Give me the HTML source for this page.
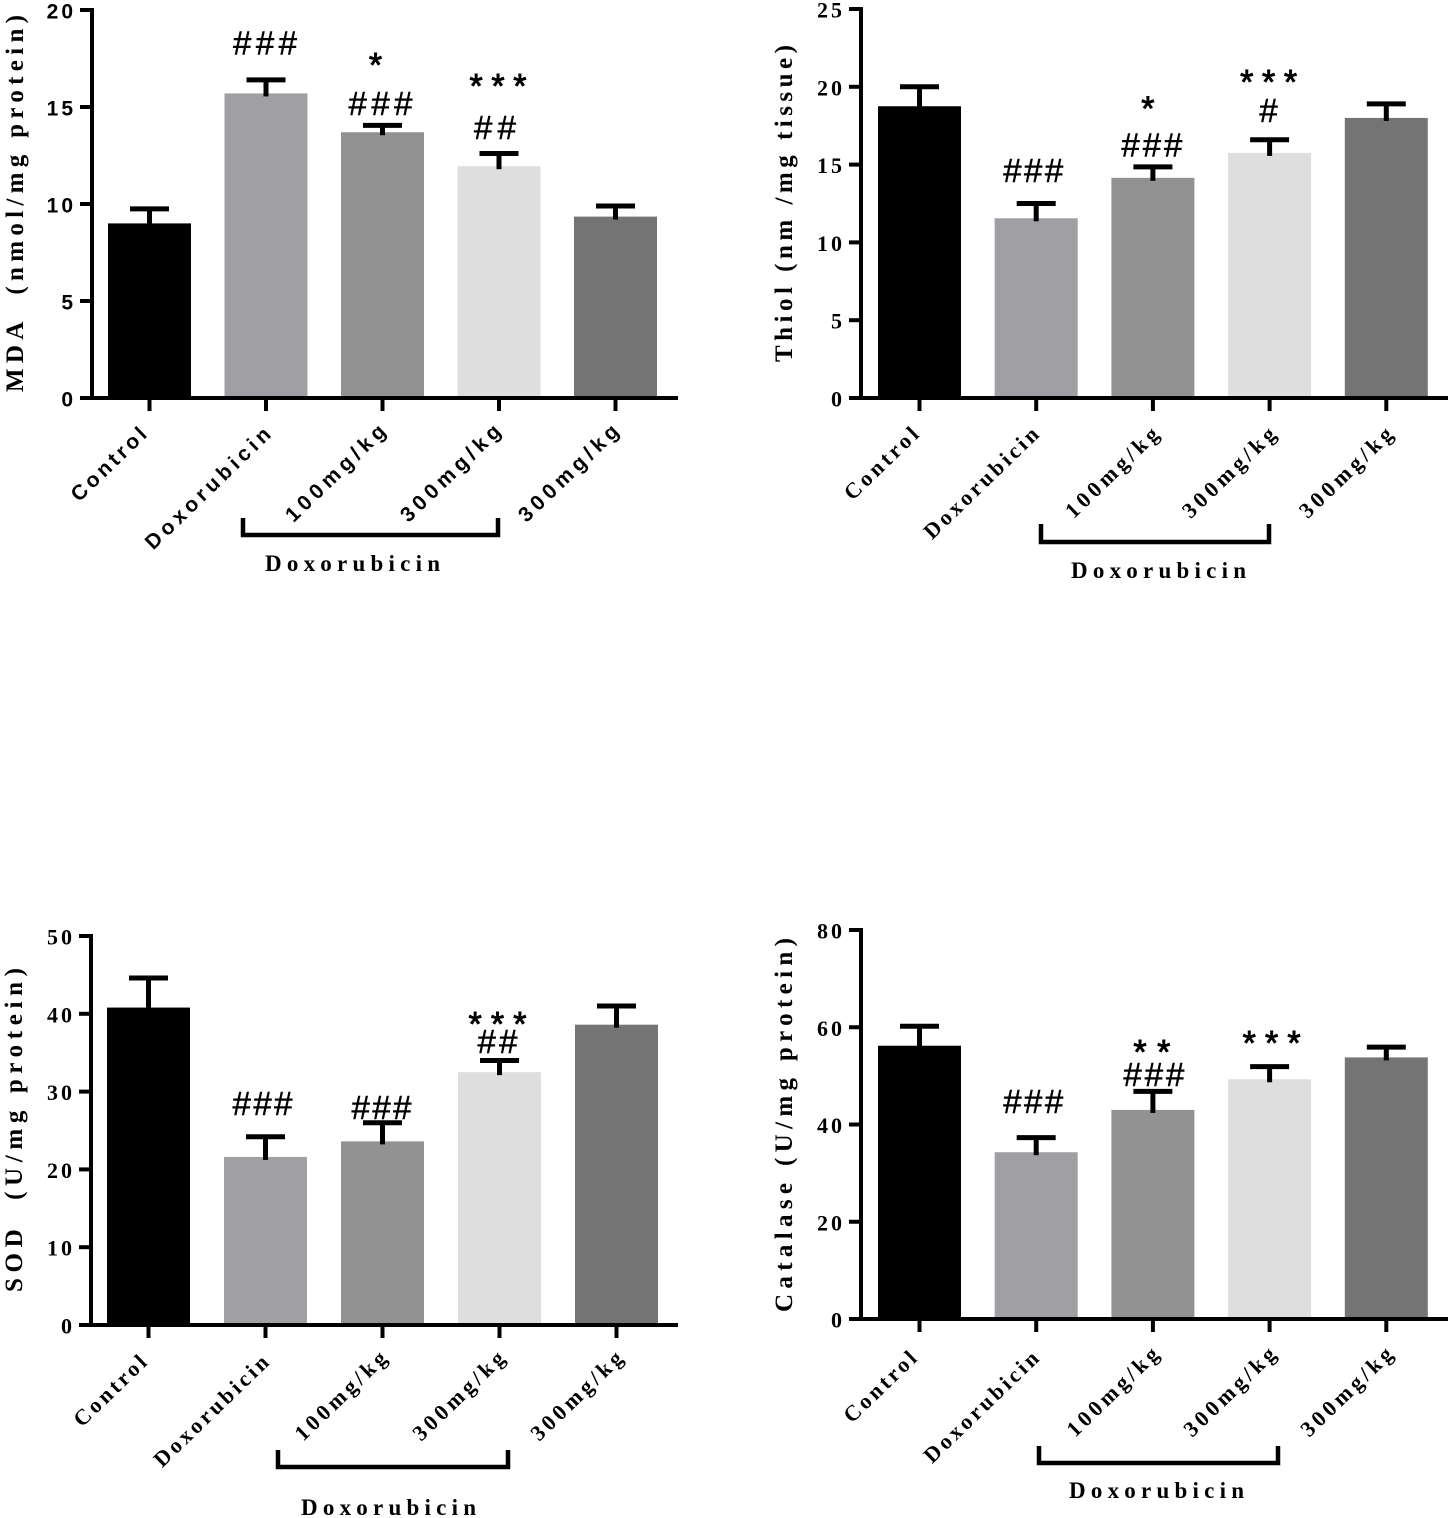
<!DOCTYPE html>
<html lang="en">
<head>
<meta charset="utf-8">
<title>Oxidative stress markers bar charts</title>
<style>
html,body{margin:0;padding:0;background:#fff;}
svg{display:block;}
text{fill:#000;font-weight:bold;}
</style>
</head>
<body>
<svg id="figure" xmlns="http://www.w3.org/2000/svg" width="1450" height="1518" viewBox="0 0 1450 1518"></svg>
<script>
// ---------- shared data ----------
const categories = ['Control', 'Doxorubicin', '100mg/kg', '300mg/kg', '300mg/kg'];
const bracketLabel = 'Doxorubicin';

// ---------- MDA ----------
const mdaMeans = [9.0, 15.7, 13.7, 11.95, 9.35];
const mdaErrorTops = [9.75, 16.4, 14.05, 12.6, 9.9];
const mdaTicks = [0, 5, 10, 15, 20];

// ---------- Thiol ----------
const thiolMeans = [18.75, 11.55, 14.15, 15.75, 18.0];
const thiolErrorTops = [20, 12.5, 14.85, 16.6, 18.9];
const thiolTicks = [0, 5, 10, 15, 20, 25];

// ---------- SOD ----------
const sodMeans = [40.8, 21.6, 23.6, 32.5, 38.6];
const sodErrorTops = [44.6, 24.2, 26, 34, 41];
const sodTicks = [0, 10, 20, 30, 40, 50];

// ---------- Catalase ----------
const catalaseMeans = [56.2, 34.3, 43, 49.3, 53.8];
const catalaseErrorTops = [60.2, 37.3, 46.8, 51.9, 55.9];
const catalaseTicks = [0, 20, 40, 60, 80];

const barColors = ['#000000', '#a0a0a4', '#929292', '#dedede', '#747474'];
const SERIF = '"Liberation Serif", serif';
const SANS = '"Liberation Sans", sans-serif';
const svg = document.getElementById('figure');

function mk(parent, tag, attrs, txt) {
  const n = document.createElementNS('http://www.w3.org/2000/svg', tag);
  for (const k in attrs) n.setAttribute(k, attrs[k]);
  if (txt !== undefined) n.textContent = txt;
  parent.appendChild(n);
  return n;
}

const panels = [
  { id: 'mda', means: mdaMeans, tops: mdaErrorTops, ticks: mdaTicks,
    title: 'MDA  (nmol/mg protein)', titleFrom: 392, titleLen: 377,
    axisX: 92, right: 678, y0: 398, yTop: 10, firstBar: 108, step: 116.5,
    tickFont: SANS, tickFs: 21, tickSpacing: 3, catFont: SANS, catFs: 21,
    catEnds: [[148, 436, 96], [272, 436, 165], [387, 433, 130], [502, 433, 130], [620, 433, 130]],
    bracket: [243, 498, 518, 535], labelX: 265, labelY: 571,
    notes: [[1, '###', -1, 37, 64], [2, '*', -7, 65, 0], [2, '###', -2, 22, 64], [3, '***', -1, 72, 57], [3, '##', -4, 26, 42]] },
  { id: 'thiol', means: thiolMeans, tops: thiolErrorTops, ticks: thiolTicks,
    title: 'Thiol (nm /mg tissue)', titleFrom: 362, titleLen: 317,
    axisX: 861, right: 1448, y0: 398, yTop: 9, firstBar: 878, step: 116.7,
    tickFont: SERIF, tickFs: 22, tickSpacing: 3, catFont: SERIF, catFs: 22,
    catEnds: [[920, 436, 94], [1040, 436, 150], [1160, 436, 120], [1277, 436, 120], [1394, 436, 120]],
    bracket: [1041, 1269, 524, 542], labelX: 1071, labelY: 578,
    notes: [[1, '###', -3, 33, 60], [2, '*', -5, 63, 0], [2, '###', -1, 22, 61], [3, '***', -1, 62, 57], [3, '#', -1, 29, 0]] },
  { id: 'sod', means: sodMeans, tops: sodErrorTops, ticks: sodTicks,
    title: 'SOD  (U/mg protein)', titleFrom: 1292, titleLen: 324,
    axisX: 91, right: 678, y0: 1325, yTop: 936, firstBar: 107, step: 117,
    tickFont: SERIF, tickFs: 22, tickSpacing: 3, catFont: SERIF, catFs: 22,
    catEnds: [[148, 1364, 92], [270, 1364, 150], [388, 1360, 118], [506, 1360, 118], [624, 1360, 118]],
    bracket: [278, 508, 1450, 1467], labelX: 301, labelY: 1515,
    notes: [[1, '###', -3, 33, 60], [2, '###', -1, 15, 60], [3, '***', -2, 41, 58], [3, '##', -2, 19, 40]] },
  { id: 'catalase', means: catalaseMeans, tops: catalaseErrorTops, ticks: catalaseTicks,
    title: 'Catalase (U/mg protein)', titleFrom: 1312, titleLen: 374,
    axisX: 861, right: 1448, y0: 1319, yTop: 930, firstBar: 878, step: 116.7,
    tickFont: SERIF, tickFs: 22, tickSpacing: 3, catFont: SERIF, catFs: 22,
    catEnds: [[918, 1360, 92], [1040, 1360, 150], [1160, 1356, 118], [1277, 1356, 118], [1394, 1356, 118]],
    bracket: [1039, 1278, 1446, 1463], labelX: 1069, labelY: 1498,
    notes: [[1, '###', -3, 36, 60], [2, '**', -1, 44, 37], [2, '###', 1, 17, 61], [3, '***', 2, 28, 58]] }
];

panels.forEach(function (p) {
  const maxV = p.ticks[p.ticks.length - 1];
  const yScale = function (v) { return p.y0 - (v / maxV) * (p.y0 - p.yTop); };
  const barW = 83;
  const barX = function (i) { return p.firstBar + i * p.step; };
  const barC = function (i) { return barX(i) + barW / 2; };

  const g = mk(svg, 'g', {});
  
  

  // bars and error bars
  p.means.forEach(function (v, i) {
    const bar = mk(g, 'rect', { x: barX(i), y: yScale(v), width: barW, height: p.y0 - yScale(v), fill: barColors[i] });
    
    
    const cap = yScale(p.tops[i]);
    const stem = mk(g, 'line', { x1: barC(i), x2: barC(i), y1: cap, y2: yScale(v) + 3, stroke: '#000', 'stroke-width': 5 });
    
    
    const capLine = mk(g, 'line', { x1: barC(i) - 19.5, x2: barC(i) + 19.5, y1: cap, y2: cap, stroke: '#000', 'stroke-width': 5 });
    
    
    const tick = mk(g, 'line', { x1: barC(i), x2: barC(i), y1: p.y0, y2: p.y0 + 13, stroke: '#000', 'stroke-width': 4 });
    
    
  });

  // axes
  const yAxis = mk(g, 'line', { x1: p.axisX, x2: p.axisX, y1: p.yTop - 2, y2: p.y0 + 2, stroke: '#000', 'stroke-width': 4 });
  
  
  const xAxis = mk(g, 'line', { x1: p.axisX - 12, x2: p.right, y1: p.y0, y2: p.y0, stroke: '#000', 'stroke-width': 4 });
  
  

  // y ticks
  p.ticks.forEach(function (t) {
    const yT = yScale(t);
    const tl = mk(g, 'line', { x1: p.axisX - 12, x2: p.axisX, y1: yT, y2: yT, stroke: '#000', 'stroke-width': 4 });
    
    
    const lab = mk(g, 'text', { x: p.axisX - 16, y: yT + 8.5, 'text-anchor': 'end', 'font-family': p.tickFont, 'font-size': p.tickFs, 'letter-spacing': p.tickSpacing }, String(t));
    
    
  });

  // y title
  const yTitle = mk(g, 'text', {
    transform: 'translate(' + (p.axisX - 69) + ',' + p.titleFrom + ') rotate(-90)',
    'font-family': SERIF, 'font-size': 25, textLength: p.titleLen, lengthAdjust: 'spacing'
  }, p.title);
  yTitle.style.whiteSpace = 'pre';
  
  

  // category labels
  categories.forEach(function (c, i) {
    const e = p.catEnds[i];
    const lab = mk(g, 'text', {
      transform: 'translate(' + e[0] + ',' + e[1] + ') rotate(-44)',
      x: -e[2], y: 0, 'font-family': p.catFont, 'font-size': p.catFs, textLength: e[2], lengthAdjust: 'spacing'
    }, c);
    
    
  });

  // bracket
  const b = p.bracket;
  const br = mk(g, 'polyline', { points: b[0] + ',' + b[2] + ' ' + b[0] + ',' + b[3] + ' ' + b[1] + ',' + b[3] + ' ' + b[1] + ',' + b[2], fill: 'none', stroke: '#000', 'stroke-width': 4.5 });
  
  
  const brT = mk(g, 'text', { x: p.labelX, y: p.labelY, 'font-family': SERIF, 'font-size': 23, textLength: 175, lengthAdjust: 'spacing' }, bracketLabel);
  
  

  // significance annotations, placed above each bar's error cap
  p.notes.forEach(function (n, k) {
    const isStar = n[1].charAt(0) === '*';
    const cx = barC(n[0]) + n[2];
    const cy = yScale(p.tops[n[0]]) - n[3];
    const attrs = { x: cx, y: cy + (isStar ? 16 : 11.5), 'text-anchor': 'middle', 'font-family': SANS, 'font-size': isStar ? 34 : 33, stroke: '#000', 'stroke-width': isStar ? 0.9 : 0.5 };
    if (n[4]) { attrs.textLength = n[4]; attrs.lengthAdjust = 'spacing'; }
    const t = mk(g, 'text', attrs, n[1]);
    t.style.fontWeight = 'normal';
    
    
  });
});
</script>
</body>
</html>
